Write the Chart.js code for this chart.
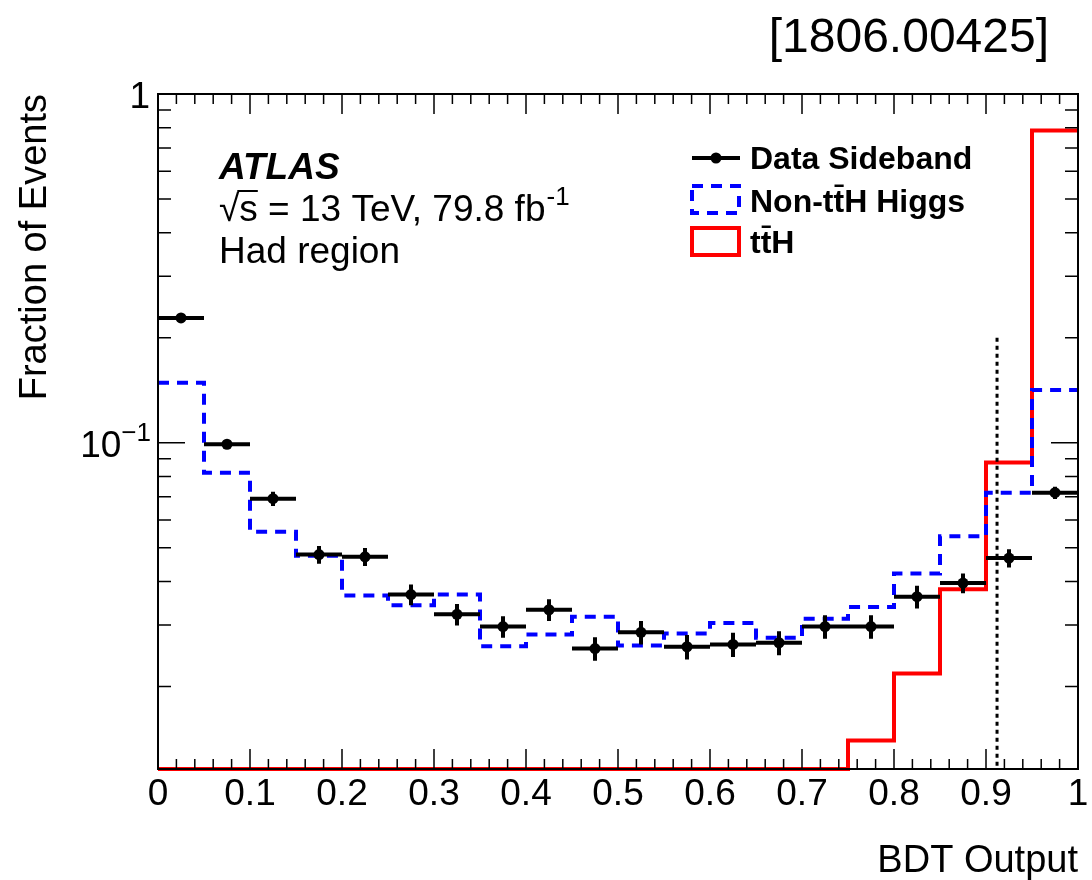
<!DOCTYPE html>
<html>
<head>
<meta charset="utf-8">
<script src="https://cdn.jsdelivr.net/npm/chart.js@4.4.1/dist/chart.umd.min.js"></script>
<style>
  body { margin: 0; background: #fff; }
  canvas { display: block; }
</style>
</head>
<body>
<canvas id="bdt" width="1092" height="880"></canvas>
<script>
// bin edges of the BDT output histogram
var binEdges = [0, 0.05, 0.1, 0.15, 0.2, 0.25, 0.3, 0.35, 0.4, 0.45, 0.5,
                0.55, 0.6, 0.65, 0.7, 0.75, 0.8, 0.85, 0.9, 0.95, 1];

// values (fraction of events per bin)
var dataSideband = [0.228, 0.099, 0.0691, 0.0478, 0.0471, 0.0367, 0.0322, 0.0297, 0.0332, 0.0257,
                    0.0286, 0.0260, 0.0264, 0.0267, 0.0297, 0.0297, 0.0362, 0.0396, 0.0467, 0.0719];
var dataErrors   = [0.0046, 0.0026, 0.0032, 0.0028, 0.0028, 0.0025, 0.0023, 0.0021, 0.0024, 0.0020,
                    0.0022, 0.0021, 0.0021, 0.0021, 0.0023, 0.0023, 0.0027, 0.0026, 0.0028, 0.0029];
var nonTTHHiggs  = [0.1486, 0.0820, 0.0556, 0.0474, 0.0365, 0.0342, 0.0367, 0.0261, 0.0282, 0.0317,
                    0.0262, 0.0284, 0.0304, 0.0276, 0.0313, 0.0338, 0.0422, 0.0539, 0.0719, 0.1416];
var ttH          = [0.0004, 0.0005, 0.0006, 0.0007, 0.0008, 0.0010, 0.0012, 0.0015, 0.0018, 0.0022,
                    0.0027, 0.0033, 0.0041, 0.0052, 0.0075, 0.0140, 0.0218, 0.0380, 0.0878, 0.786];

var xTickLabels = ['0', '0.1', '0.2', '0.3', '0.4', '0.5', '0.6', '0.7', '0.8', '0.9', '1'];
var yTickValues = [1, 0.1];
var yMin = 0.0116, yMax = 1;
var cutValue = 0.912, cutTop = 0.2;

var FONT = '"Liberation Sans", Arial, Helvetica, sans-serif';

// histogram -> polyline along the bin edges; bins under the frame sit on the bottom like ROOT does
function histPoints(vals) {
    var pts = [];
    vals.forEach(function (v, i) {
        var y = Math.max(v, yMin);
        pts.push({x: binEdges[i], y: y});
        pts.push({x: binEdges[i + 1], y: y});
    });
    return pts;
}

var centers = dataSideband.map(function (v, i) {
    return {x: (binEdges[i] + binEdges[i + 1]) / 2, y: v};
});

// overlined text pieces, e.g. t t-bar H
function drawPieces(ctx, pieces, x, y, size) {
    pieces.forEach(function (p) {
        var w = ctx.measureText(p.t).width;
        ctx.fillText(p.t, x, y);
        if (p.bar) {
            ctx.save();
            ctx.lineWidth = 2.5;
            ctx.strokeStyle = ctx.fillStyle;
            ctx.beginPath();
            ctx.moveTo(x + 1, y - size * 0.82);
            ctx.lineTo(x + w - 0.5, y - size * 0.82);
            ctx.stroke();
            ctx.restore();
        }
        x += w;
    });
    return x;
}

var errorBars = {
    id: 'errorBars',
    afterDatasetsDraw: function (chart) {
        var ctx = chart.ctx, xs = chart.scales.x, ys = chart.scales.y;
        ctx.save();
        ctx.strokeStyle = '#000';
        ctx.lineWidth = 4;
        dataSideband.forEach(function (v, i) {
            var yp = ys.getPixelForValue(v);
            var xc = xs.getPixelForValue((binEdges[i] + binEdges[i + 1]) / 2);
            ctx.beginPath();
            ctx.moveTo(xs.getPixelForValue(binEdges[i]), yp);
            ctx.lineTo(xs.getPixelForValue(binEdges[i + 1]), yp);
            ctx.moveTo(xc, ys.getPixelForValue(v + dataErrors[i]));
            ctx.lineTo(xc, ys.getPixelForValue(v - dataErrors[i]));
            ctx.stroke();
        });
        // cut line
        ctx.lineWidth = 3;
        ctx.setLineDash([4, 4]);
        ctx.beginPath();
        var xcut = xs.getPixelForValue(cutValue);
        ctx.moveTo(xcut, ys.getPixelForValue(cutTop));
        ctx.lineTo(xcut, chart.chartArea.bottom);
        ctx.stroke();
        ctx.restore();
    }
};

var frameAndText = {
    id: 'frameAndText',
    afterDraw: function (chart) {
        var ctx = chart.ctx, a = chart.chartArea;
        var xs = chart.scales.x, ys = chart.scales.y;
        ctx.save();
        ctx.strokeStyle = '#000';
        ctx.lineWidth = 2;
        ctx.strokeRect(a.left, a.top, a.right - a.left, a.bottom - a.top);

        // x ticks, inside, bottom and top
        ctx.lineWidth = 1.5;
        ctx.beginPath();
        for (var k = 0; k <= 50; k++) {
            var xp = xs.getPixelForValue(k * 0.02);
            var len = (k % 5 === 0) ? 20 : 10;
            ctx.moveTo(xp, a.bottom); ctx.lineTo(xp, a.bottom - len);
            ctx.moveTo(xp, a.top); ctx.lineTo(xp, a.top + len);
        }
        // y ticks (log), left and right
        [0.01, 0.1].forEach(function (dec) {
            for (var m = 1; m <= 9; m++) {
                var v = dec * m;
                if (v < yMin || v > yMax) continue;
                var yp = ys.getPixelForValue(v);
                var l = (m === 1) ? 27 : 13;
                ctx.moveTo(a.left, yp); ctx.lineTo(a.left + l, yp);
                ctx.moveTo(a.right, yp); ctx.lineTo(a.right - l, yp);
            }
        });
        var ytop = ys.getPixelForValue(1);
        ctx.moveTo(a.left, ytop); ctx.lineTo(a.left + 27, ytop);
        ctx.moveTo(a.right, ytop); ctx.lineTo(a.right - 27, ytop);
        ctx.stroke();

        ctx.fillStyle = '#000';
        // x tick labels
        ctx.font = '37px ' + FONT;
        ctx.textAlign = 'center';
        ctx.textBaseline = 'alphabetic';
        xTickLabels.forEach(function (t, i) {
            ctx.fillText(t, xs.getPixelForValue(i * 0.1), 805);
        });
        // y tick labels
        yTickValues.forEach(function (v) {
            var yp = ys.getPixelForValue(v) + 14;
            var e = Math.round(Math.log10(v));
            ctx.textAlign = 'right';
            ctx.font = '37px ' + FONT;
            if (e === 0) {
                ctx.fillText('1', 150, yp);
            } else {
                ctx.font = '26px ' + FONT;
                var ew = ctx.measureText('\u2212' + Math.abs(e)).width;
                ctx.fillText('\u2212' + Math.abs(e), 151, yp - 16);
                ctx.font = '37px ' + FONT;
                ctx.fillText('10', 151 - ew, yp);
            }
        });

        // axis titles
        ctx.font = '38px ' + FONT;
        ctx.textAlign = 'right';
        ctx.fillText('BDT Output', a.right, 872);
        ctx.save();
        ctx.translate(46, a.top);
        ctx.rotate(-Math.PI / 2);
        ctx.fillText('Fraction of Events', 0, 0);
        ctx.restore();

        ctx.font = '48px ' + FONT;
        ctx.fillText('[1806.00425]', 1049, 52);

        // ATLAS label
        ctx.textAlign = 'left';
        ctx.font = 'italic bold 37px ' + FONT;
        ctx.fillText('ATLAS', 219, 179);
        ctx.font = '37px ' + FONT;
        var sq = ctx.measureText('\u221A').width;
        ctx.fillText('\u221A', 219, 221);
        var sw = ctx.measureText('s').width;
        ctx.lineWidth = 2;
        ctx.beginPath();
        ctx.moveTo(219 + sq - 2, 221 - 30);
        ctx.lineTo(219 + sq + sw, 221 - 30);
        ctx.stroke();
        var txt = 's = 13 TeV, 79.8 fb';
        ctx.fillText(txt, 219 + sq, 221);
        var tw = ctx.measureText(txt).width;
        ctx.font = '26px ' + FONT;
        ctx.fillText('-1', 219 + sq + tw + 1, 205);
        ctx.font = '37px ' + FONT;
        ctx.fillText('Had region', 219, 263);

        // legend
        ctx.lineWidth = 4;
        ctx.beginPath();
        ctx.moveTo(692, 158); ctx.lineTo(740, 158);
        ctx.stroke();
        ctx.beginPath();
        ctx.arc(716, 158, 5.5, 0, Math.PI * 2);
        ctx.fill();
        ctx.strokeStyle = '#0000ff';
        ctx.setLineDash([11, 8]);
        ctx.strokeRect(692, 186, 47, 27);
        ctx.setLineDash([]);
        ctx.strokeStyle = '#ff0000';
        ctx.strokeRect(692, 228, 47, 27);

        ctx.fillStyle = '#000';
        ctx.font = 'bold 32px ' + FONT;
        ctx.fillText('Data Sideband', 750, 169);
        drawPieces(ctx, [{t: 'Non-t'}, {t: 't', bar: true}, {t: 'H Higgs'}], 750, 212, 32);
        drawPieces(ctx, [{t: 't'}, {t: 't', bar: true}, {t: 'H'}], 750, 253, 32);
        ctx.restore();
    }
};

var ctx = document.getElementById('bdt').getContext('2d');
var chart = new Chart(ctx, {
    type: 'line',
    data: {
        datasets: [{
            label: 'Data Sideband',
            data: centers,
            showLine: false,
            pointRadius: 5.5,
            pointBackgroundColor: '#000',
            pointBorderColor: '#000',
            pointBorderWidth: 0
        }, {
            label: 'Non-ttH Higgs',
            data: histPoints(nonTTHHiggs),
            borderColor: '#0000ff',
            borderWidth: 4,
            borderDash: [11, 8],
            pointRadius: 0,
            fill: false,
            tension: 0
        }, {
            label: 'ttH',
            data: histPoints(ttH),
            borderColor: '#ff0000',
            borderWidth: 4,
            pointRadius: 0,
            fill: false,
            tension: 0,
            clip: 4
        }]
    },
    options: {
        responsive: false,
        animation: false,
        devicePixelRatio: 1,
        layout: { padding: { left: 158, right: 14, top: 94, bottom: 111 } },
        plugins: { legend: { display: false }, tooltip: { enabled: false } },
        scales: {
            x: { type: 'linear', min: 0, max: 1, display: false },
            y: { type: 'logarithmic', min: yMin, max: yMax, display: false }
        }
    },
    plugins: [errorBars, frameAndText]
});
</script>
</body>
</html>
